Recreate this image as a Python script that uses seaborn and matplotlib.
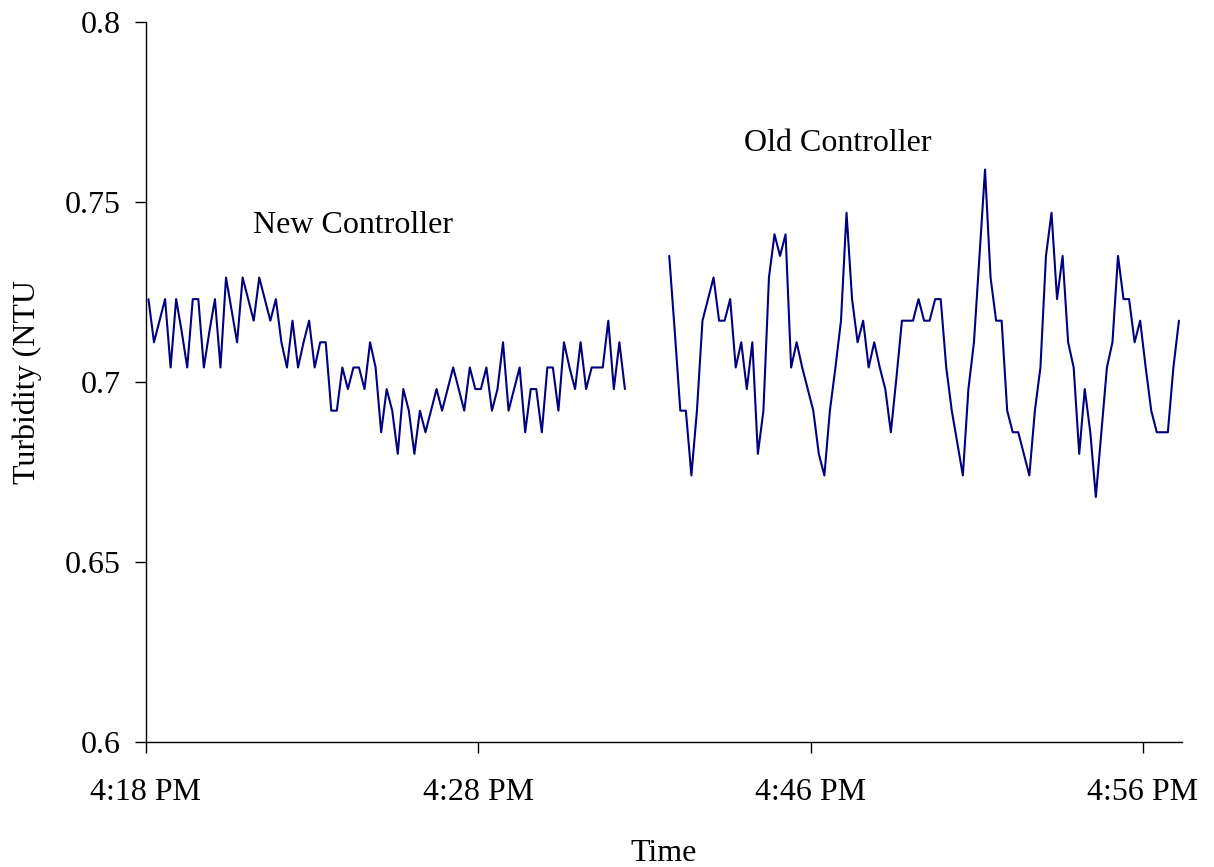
import matplotlib
matplotlib.use("Agg")
import matplotlib.pyplot as plt
import seaborn as sns
import pandas as pd

# Turbidity readings (NTU), one every sample
new_controller = [
    0.723, 0.711, 0.717, 0.723, 0.704, 0.723, 0.714, 0.704, 0.723, 0.723,
    0.704, 0.714, 0.723, 0.704, 0.729, 0.720, 0.711, 0.729, 0.723, 0.717,
    0.729, 0.723, 0.717, 0.723, 0.711, 0.704, 0.717, 0.704, 0.711, 0.717,
    0.704, 0.711, 0.711, 0.692, 0.692, 0.704, 0.698, 0.704, 0.704, 0.698,
    0.711, 0.704, 0.686, 0.698, 0.692, 0.680, 0.698, 0.692, 0.680, 0.692,
    0.686, 0.692, 0.698, 0.692, 0.698, 0.704, 0.698, 0.692, 0.704, 0.698,
    0.698, 0.704, 0.692, 0.698, 0.711, 0.692, 0.698, 0.704, 0.686, 0.698,
    0.698, 0.686, 0.704, 0.704, 0.692, 0.711, 0.704, 0.698, 0.711, 0.698,
    0.704, 0.704, 0.704, 0.717, 0.698, 0.711, 0.698,
]
old_controller = [
    0.735, 0.714, 0.692, 0.692, 0.674, 0.692, 0.717, 0.723, 0.729, 0.717,
    0.717, 0.723, 0.704, 0.711, 0.698, 0.711, 0.680, 0.692, 0.729, 0.741,
    0.735, 0.741, 0.704, 0.711, 0.704, 0.698, 0.692, 0.680, 0.674, 0.692,
    0.704, 0.717, 0.747, 0.723, 0.711, 0.717, 0.704, 0.711, 0.704, 0.698,
    0.686, 0.701, 0.717, 0.717, 0.717, 0.723, 0.717, 0.717, 0.723, 0.723,
    0.704, 0.692, 0.683, 0.674, 0.698, 0.711, 0.735, 0.759, 0.729, 0.717,
    0.717, 0.692, 0.686, 0.686, 0.680, 0.674, 0.692, 0.704, 0.735, 0.747,
    0.723, 0.735, 0.711, 0.704, 0.680, 0.698, 0.686, 0.668, 0.686, 0.704,
    0.711, 0.735, 0.723, 0.723, 0.711, 0.717, 0.704, 0.692, 0.686, 0.686,
    0.686, 0.704, 0.717,
]
gap_samples = 7      # empty categories between the two runs
tick_every = 60      # samples between labelled ticks
time_labels = ['4:18 PM', '4:28 PM', '4:46 PM', '4:56 PM']
y_ticks = [0.6, 0.65, 0.7, 0.75, 0.8]
y_tick_labels = ['0.6', '0.65', '0.7', '0.75', '0.8']

n_new = len(new_controller)
start_old = n_new + gap_samples
n_samples = start_old + len(old_controller)

df = pd.DataFrame({
    'sample': list(range(n_new)) + list(range(start_old, n_samples)),
    'turbidity': new_controller + old_controller,
    'run': ['New Controller'] * n_new + ['Old Controller'] * len(old_controller),
})

sns.set_theme(style="ticks")
plt.rcParams['font.family'] = ['Liberation Serif', 'DejaVu Serif']
plt.rcParams['font.size'] = 23
plt.rcParams['text.color'] = 'black'
plt.rcParams['axes.labelcolor'] = 'black'
plt.rcParams['xtick.color'] = 'black'
plt.rcParams['ytick.color'] = 'black'

fig = plt.figure(figsize=(12.14, 8.67), dpi=100)
ax = fig.add_axes([0.12, 0.1445, 0.8534, 0.8301])

sns.lineplot(data=df, x='sample', y='turbidity', hue='run',
             palette=['#000080', '#000080'], legend=False,
             linewidth=1.5, ax=ax)

ax.set_xlim(-0.5, n_samples - 0.5)
ax.set_ylim(0.6, 0.8)
ax.set_xticks([k * tick_every - 0.5 for k in range(len(time_labels))])
ax.set_xticklabels(time_labels, fontsize=23, color='black')
ax.set_yticks(y_ticks)
ax.set_yticklabels(y_tick_labels, fontsize=23, color='black')
ax.tick_params(axis='both', direction='out', length=8, width=1, colors='black')
ax.tick_params(axis='x', pad=18)
ax.tick_params(axis='y', pad=10)

for side in ['top', 'right']:
    ax.spines[side].set_visible(False)
for side in ['left', 'bottom']:
    ax.spines[side].set_color('black')
    ax.spines[side].set_linewidth(1.0)

ax.set_xlabel('Time', fontsize=23, va='center', color='black')
ax.set_ylabel('Turbidity (NTU', fontsize=23, va='center', color='black')
ax.xaxis.set_label_coords(0.5, -0.155)
ax.yaxis.set_label_coords(-0.114, 0.5)

ax.text(37, 0.7435, 'New Controller', ha='center', va='center',
        fontsize=23, color='black')
ax.text(124.5, 0.7663, 'Old Controller', ha='center', va='center',
        fontsize=23, color='black')

fig.savefig('out.png', dpi=100, facecolor='white')
